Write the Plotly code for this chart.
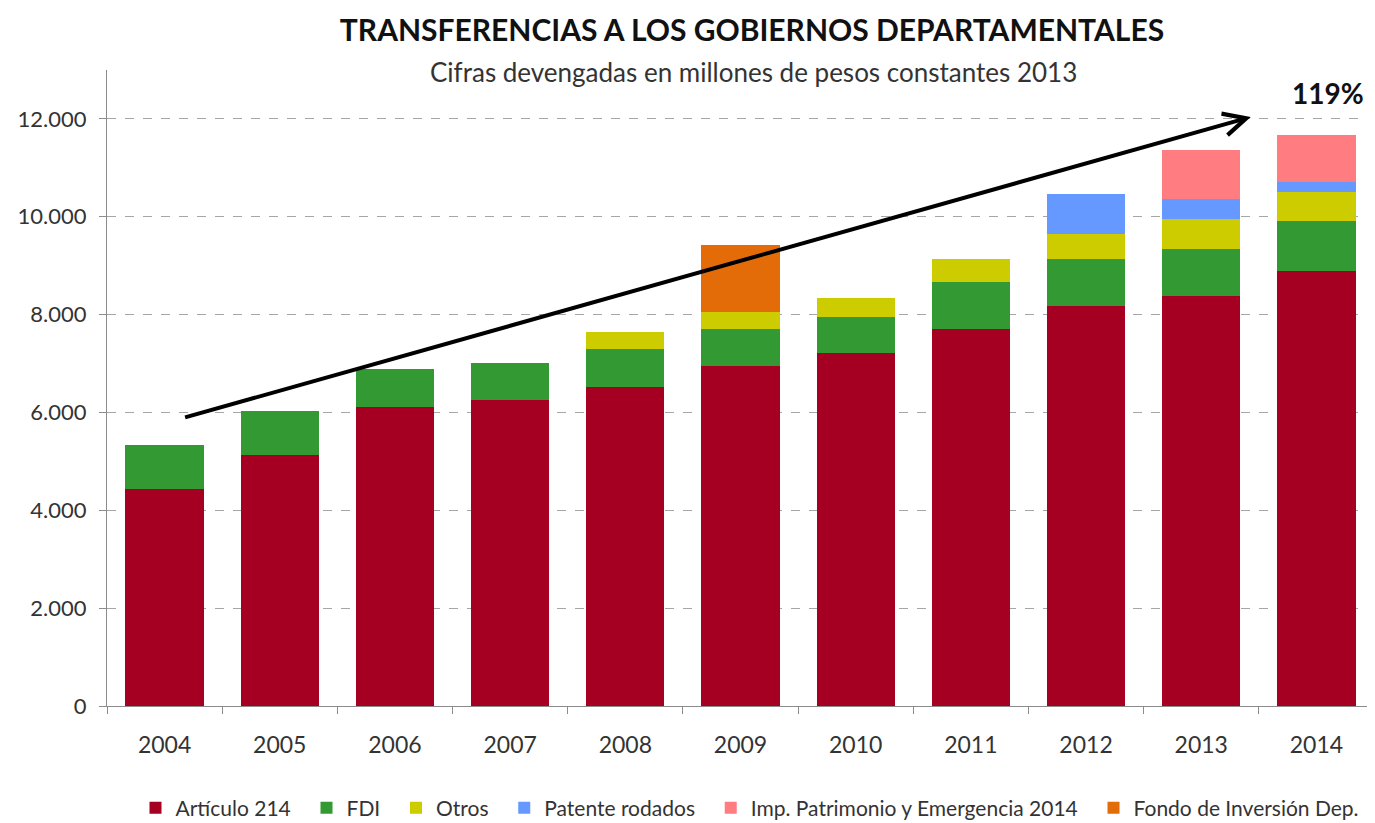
import plotly.graph_objects as go

years = ["2004", "2005", "2006", "2007", "2008", "2009", "2010", "2011", "2012", "2013", "2014"]
articulo_214 = [4440, 5130, 6110, 6255, 6520, 6950, 7215, 7705, 8175, 8380, 8890]
fdi = [895, 900, 780, 755, 780, 755, 735, 965, 965, 960, 1025]
otros = [None, None, None, None, 345, 350, 390, 470, 510, 615, 595]
patente_rodados = [None, None, None, None, None, None, None, None, 815, 410, 200]
imp_patrimonio = [None, None, None, None, None, None, None, None, None, 1000, 965]
fondo_inversion = [None, None, None, None, None, 1370, None, None, None, None, None]

y_ticks = [0, 2000, 4000, 6000, 8000, 10000, 12000]
growth_label = "119%"

series = [
    ("Artículo 214", articulo_214, "#A50021"),
    ("FDI", fdi, "#339933"),
    ("Otros", otros, "#CCCC00"),
    ("Patente rodados", patente_rodados, "#6699FF"),
    ("Imp. Patrimonio y Emergencia 2014", imp_patrimonio, "#FF7C80"),
    ("Fondo de Inversión Dep.", fondo_inversion, "#E36C09"),
]

FONT = "Lato, 'Open Sans', sans-serif"
PAD = "\u00a0" * 2  # extra gap between legend entries

fig = go.Figure()
for i, (name, vals, color) in enumerate(series):
    label = name + (PAD if i < len(series) - 1 else "")
    fig.add_trace(go.Bar(x=years, y=vals, name=label, marker=dict(color=color, line=dict(width=0))))

# the page body has an 8px margin: figure is placed at (8, 8)
W, H = 1367, 815
ML, MR, MT, MB = 99, 1, 62, 117
PW, PH = W - ML - MR, H - MT - MB
PLOT_BOTTOM_PAGE = 8 + H - MB  # = 706

fig.update_layout(
    barmode="stack",
    bargap=0.32,
    separators=",.",
    width=W,
    height=H,
    paper_bgcolor="white",
    plot_bgcolor="white",
    margin=dict(l=ML, r=MR, t=MT, b=MB, autoexpand=False),
    font=dict(family=FONT, color="#333333"),
    title=dict(
        text="<b>TRANSFERENCIAS A LOS GOBIERNOS DEPARTAMENTALES</b>",
        x=744 / W, xanchor="center", y=1 - 22 / H, yanchor="middle", yref="container",
        font=dict(size=30, color="#111111", family=FONT),
    ),
    legend=dict(
        orientation="h", x=742 / W, xanchor="center", xref="container",
        y=1 - 800 / H, yanchor="middle", yref="container",
        font=dict(size=21, color="#333333"),
        traceorder="normal", itemwidth=30,
    ),
    xaxis=dict(
        type="category",
        showline=True, linecolor="#8c8c8c", linewidth=1,
        ticks="outside", tickson="boundaries", ticklen=7, tickcolor="#8c8c8c",
        tickfont=dict(size=23, color="#333333"),
        ticklabelstandoff=18, tickangle=0,
        showgrid=False,
    ),
    yaxis=dict(
        range=[0, 13000],
        tickvals=y_ticks, tickformat=",",
        showline=True, linecolor="#8c8c8c", linewidth=1,
        ticks="outside", ticklen=7, tickcolor="#8c8c8c",
        tickfont=dict(size=22, color="#333333"),
        ticklabelstandoff=8,
        showgrid=True, gridcolor="#A6A6A6", griddash="dash", gridwidth=1,
        zeroline=False,
    ),
)

fig.add_annotation(
    text="Cifras devengadas en millones de pesos constantes 2013",
    xref="paper", yref="paper", x=(753 - 8 - ML) / PW, y=(PLOT_BOTTOM_PAGE - 72) / PH,
    yanchor="middle", xanchor="center",
    showarrow=False, font=dict(size=26, color="#333333", family=FONT),
)
fig.add_annotation(
    text="<b>" + growth_label + "</b>",
    xref="x", yref="y", x=10.1, y=12530, showarrow=False,
    font=dict(size=28, color="#111111", family=FONT),
)
fig.add_annotation(
    x=9.43, y=12040, ax=0.165, ay=5890,
    xref="x", yref="y", axref="x", ayref="y",
    text="", showarrow=True, arrowhead=5, arrowsize=1.1, arrowwidth=4, arrowcolor="#000000",
)

fig.write_html("out.html")
